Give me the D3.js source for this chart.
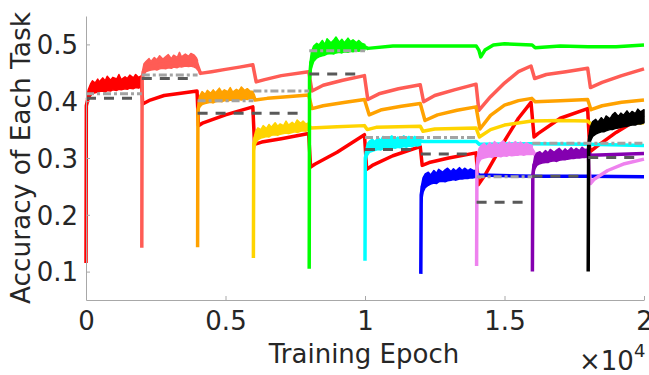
<!DOCTYPE html>
<html><head><meta charset="utf-8">
<script src="https://cdn.jsdelivr.net/npm/d3@7"></script>
<style>
html,body{margin:0;padding:0;background:#fff;}
svg{display:block;}
text{font-family:"DejaVu Sans",sans-serif;fill:#262626;}
</style></head>
<body>
<svg id="chart" width="649" height="375"></svg>
<script>
// ---- data (epoch, accuracy) ----
const taskNames = ["Task 1","Task 2","Task 3","Task 4","Task 5","Task 6","Task 7","Task 8","Task 9","Task 10"];
const taskColors = ["#ff0000","#ff5c55","#ffa200","#ffd400","#00ff00","#00ffff","#0000ff","#ee82ee","#8400b0","#000000"];

const curveRed = [[0,0.115],[12,0.392],[60,0.402],[200,0.418],[400,0.425],[800,0.429],[1200,0.431],[1600,0.433],[1990,0.436],[2030,0.395],[2300,0.402],[2800,0.41],[3400,0.414],[3980,0.418],[4030,0.357],[4200,0.362],[5000,0.376],[5980,0.39],[6040,0.324],[6300,0.328],[7000,0.334],[7980,0.343],[8050,0.284],[8200,0.289],[9000,0.31],[9980,0.341],[10060,0.28],[10300,0.288],[11000,0.304],[11980,0.32],[12050,0.287],[12300,0.292],[13000,0.3],[13980,0.309],[14060,0.253],[14300,0.27],[15000,0.33],[15500,0.37],[15950,0.398],[16060,0.337],[16200,0.343],[17000,0.37],[17980,0.387],[18060,0.311],[18300,0.32],[19000,0.345],[19500,0.36],[20000,0.366]];
const curveSalmon = [[2000,0.142],[2012,0.44],[2060,0.452],[2200,0.46],[2600,0.464],[3000,0.467],[3500,0.47],[3900,0.472],[3960,0.468],[4100,0.449],[4500,0.452],[5000,0.456],[5500,0.46],[5980,0.464],[6100,0.434],[6400,0.438],[7000,0.445],[7980,0.452],[8100,0.418],[8500,0.428],[9200,0.437],[9980,0.445],[10100,0.403],[10500,0.413],[11200,0.422],[11980,0.429],[12100,0.399],[12500,0.41],[13200,0.42],[13980,0.43],[14080,0.384],[14500,0.408],[15000,0.432],[15500,0.452],[15950,0.462],[16080,0.44],[16500,0.447],[17200,0.452],[17980,0.458],[18080,0.424],[18500,0.433],[19200,0.445],[20000,0.457]];
const curveOrange = [[4000,0.143],[4012,0.385],[4060,0.395],[4200,0.402],[4600,0.406],[5000,0.408],[5500,0.41],[5990,0.412],[6060,0.402],[6500,0.405],[7200,0.408],[7980,0.411],[8100,0.387],[8500,0.392],[9300,0.398],[9980,0.403],[10150,0.376],[10600,0.385],[11300,0.391],[11980,0.396],[12150,0.366],[12600,0.376],[13300,0.384],[13980,0.39],[14120,0.351],[14500,0.375],[15000,0.393],[15500,0.401],[15980,0.405],[16100,0.399],[17000,0.401],[17980,0.403],[18100,0.385],[18500,0.392],[19200,0.398],[20000,0.402]];
const curveGold = [[6000,0.124],[6012,0.325],[6060,0.335],[6200,0.342],[6600,0.347],[7200,0.352],[7990,0.357],[8060,0.353],[9000,0.355],[9980,0.357],[10080,0.35],[10400,0.354],[11980,0.356],[12080,0.347],[12500,0.351],[13980,0.353],[14100,0.337],[14500,0.35],[15000,0.358],[15980,0.365],[17000,0.366],[17980,0.365],[18100,0.36],[20000,0.362]];
const curveGreen = [[8000,0.105],[8012,0.44],[8060,0.468],[8200,0.482],[8500,0.49],[9000,0.494],[9500,0.495],[9990,0.496],[10100,0.493],[11000,0.497],[12000,0.497],[13000,0.497],[13990,0.497],[14080,0.49],[14150,0.478],[14300,0.49],[14600,0.499],[15000,0.501],[15990,0.499],[16100,0.494],[17000,0.497],[18000,0.496],[19000,0.496],[20000,0.499]];
const curveCyan = [[10000,0.119],[10012,0.3],[10060,0.312],[10200,0.32],[10600,0.325],[11200,0.328],[11990,0.33],[12100,0.329],[13990,0.329],[14100,0.324],[16000,0.325],[18000,0.324],[20000,0.322]];
const curveBlue = [[12000,0.096],[12015,0.235],[12060,0.25],[12200,0.26],[12600,0.266],[13300,0.27],[13990,0.273],[14100,0.27],[16000,0.268],[18000,0.268],[20000,0.267]];
const curveViolet = [[14000,0.11],[14012,0.285],[14060,0.3],[14200,0.308],[14600,0.311],[15300,0.313],[15990,0.315],[16100,0.305],[17990,0.308],[18080,0.255],[18200,0.262],[18700,0.278],[19300,0.29],[20000,0.298]];
const curvePurple = [[16000,0.10],[16015,0.27],[16060,0.288],[16200,0.298],[16600,0.303],[17300,0.307],[17990,0.311],[18100,0.305],[20000,0.308]];
const curveBlack = [[18000,0.10],[18015,0.32],[18060,0.338],[18200,0.35],[18600,0.358],[19200,0.368],[20000,0.375]];

// noisy spread while each task is being trained: [epoch, low, high]
const bandRed = [[20,0.39,0.405],[80,0.402,0.42],[160,0.41,0.43],[230,0.413,0.436],[330,0.415,0.432],[420,0.416,0.439],[470,0.417,0.434],[600,0.418,0.441],[690,0.416,0.436],[760,0.419,0.444],[880,0.418,0.437],[960,0.42,0.442],[1100,0.419,0.439],[1180,0.421,0.447],[1260,0.42,0.438],[1400,0.422,0.443],[1480,0.421,0.44],[1570,0.423,0.446],[1700,0.422,0.441],[1780,0.424,0.447],[1880,0.423,0.442],[1995,0.425,0.445]];
const bandSalmon = [[2020,0.435,0.452],[2080,0.447,0.466],[2150,0.452,0.47],[2260,0.454,0.475],[2330,0.455,0.47],[2450,0.456,0.477],[2540,0.455,0.473],[2640,0.457,0.48],[2760,0.458,0.474],[2850,0.457,0.478],[2950,0.459,0.482],[3060,0.458,0.475],[3140,0.46,0.481],[3270,0.459,0.477],[3350,0.461,0.486],[3420,0.46,0.478],[3560,0.462,0.483],[3680,0.461,0.479],[3760,0.462,0.484],[3880,0.46,0.481],[3960,0.458,0.476],[3995,0.455,0.472]];
const bandOrange = [[4020,0.38,0.398],[4080,0.39,0.41],[4160,0.394,0.417],[4270,0.396,0.412],[4350,0.397,0.419],[4470,0.398,0.414],[4560,0.397,0.42],[4640,0.399,0.415],[4780,0.4,0.423],[4870,0.399,0.416],[4960,0.401,0.42],[5080,0.4,0.417],[5170,0.402,0.424],[5260,0.401,0.416],[5390,0.402,0.421],[5480,0.403,0.418],[5570,0.402,0.425],[5690,0.404,0.419],[5780,0.403,0.422],[5880,0.405,0.418],[5995,0.405,0.417]];
const bandGold = [[6020,0.31,0.335],[6080,0.325,0.347],[6160,0.332,0.353],[6270,0.335,0.35],[6350,0.336,0.357],[6470,0.338,0.352],[6560,0.337,0.359],[6640,0.34,0.354],[6780,0.341,0.362],[6870,0.34,0.356],[6960,0.342,0.36],[7080,0.343,0.357],[7170,0.344,0.365],[7260,0.343,0.358],[7390,0.345,0.363],[7480,0.346,0.359],[7570,0.345,0.367],[7690,0.347,0.361],[7780,0.348,0.365],[7880,0.347,0.36],[7995,0.35,0.362]];
const bandGreen = [[8020,0.43,0.465],[8080,0.458,0.487],[8160,0.47,0.497],[8270,0.476,0.502],[8350,0.478,0.499],[8470,0.48,0.507],[8560,0.481,0.5],[8640,0.483,0.51],[8780,0.484,0.503],[8870,0.483,0.507],[8960,0.485,0.513],[9080,0.486,0.504],[9170,0.485,0.509],[9260,0.487,0.503],[9390,0.486,0.511],[9480,0.488,0.505],[9570,0.487,0.508],[9690,0.489,0.503],[9780,0.488,0.507],[9880,0.49,0.502],[9995,0.49,0.5]];
const bandCyan = [[10020,0.29,0.312],[10080,0.304,0.325],[10160,0.31,0.33],[10270,0.312,0.333],[10350,0.313,0.329],[10470,0.315,0.336],[10560,0.314,0.331],[10640,0.316,0.338],[10780,0.317,0.332],[10870,0.316,0.336],[10960,0.318,0.339],[11080,0.317,0.333],[11170,0.319,0.337],[11260,0.318,0.334],[11390,0.32,0.339],[11480,0.319,0.335],[11570,0.321,0.338],[11690,0.32,0.334],[11780,0.322,0.338],[11880,0.321,0.335],[11995,0.323,0.335]];
const bandBlue = [[12020,0.22,0.25],[12080,0.24,0.265],[12160,0.248,0.272],[12270,0.252,0.275],[12350,0.254,0.27],[12470,0.256,0.278],[12560,0.255,0.273],[12640,0.258,0.28],[12780,0.259,0.275],[12870,0.258,0.279],[12960,0.26,0.282],[13080,0.261,0.276],[13170,0.262,0.281],[13260,0.261,0.277],[13390,0.263,0.283],[13480,0.263,0.278],[13570,0.264,0.282],[13690,0.264,0.278],[13780,0.265,0.281],[13880,0.265,0.278],[13995,0.266,0.278]];
const bandViolet = [[14020,0.275,0.3],[14080,0.292,0.316],[14160,0.298,0.322],[14270,0.3,0.326],[14350,0.301,0.32],[14470,0.302,0.327],[14560,0.301,0.322],[14640,0.303,0.329],[14780,0.303,0.323],[14870,0.302,0.327],[14960,0.304,0.33],[15080,0.303,0.323],[15170,0.305,0.328],[15260,0.304,0.324],[15390,0.305,0.329],[15480,0.305,0.324],[15570,0.306,0.328],[15690,0.305,0.323],[15780,0.306,0.327],[15880,0.306,0.324],[15995,0.306,0.322]];
const bandPurple = [[16020,0.26,0.285],[16080,0.28,0.302],[16160,0.287,0.309],[16270,0.29,0.311],[16350,0.291,0.307],[16470,0.292,0.313],[16560,0.292,0.309],[16640,0.294,0.315],[16780,0.295,0.31],[16870,0.294,0.314],[16960,0.296,0.317],[17080,0.297,0.311],[17170,0.297,0.316],[17260,0.298,0.312],[17390,0.299,0.318],[17480,0.299,0.313],[17570,0.3,0.317],[17690,0.3,0.313],[17780,0.301,0.319],[17880,0.301,0.315],[17995,0.302,0.316]];
const bandBlack = [[18020,0.3,0.335],[18080,0.33,0.355],[18160,0.338,0.364],[18270,0.342,0.368],[18350,0.344,0.363],[18470,0.346,0.371],[18560,0.346,0.366],[18640,0.348,0.374],[18780,0.35,0.369],[18870,0.35,0.376],[18960,0.352,0.38],[19080,0.353,0.373],[19170,0.354,0.379],[19260,0.355,0.375],[19390,0.356,0.383],[19480,0.357,0.377],[19570,0.358,0.382],[19690,0.358,0.378],[19780,0.36,0.386],[19880,0.36,0.381],[20000,0.362,0.385]];

// reference levels: [startEpoch, endEpoch, accuracy]
const lightRefs = [[0,2000,0.413],[2000,4000,0.446],[4000,6000,0.401],[6000,8000,0.418],[8000,10000,0.489],[10000,14000,0.336],[14000,16000,0.267],[16000,20000,0.326]];
const darkRefs = [[0,1700,0.405],[2000,3720,0.44],[4000,7750,0.379],[8000,9720,0.448],[10000,11950,0.315],[12000,13800,0.307],[14000,15700,0.222],[16000,17700,0.268],[18000,19800,0.301]];

const xTicks = [0,5000,10000,15000,20000];
const yTicks = [0.1,0.2,0.3,0.4,0.5];
const xLabel = "Training Epoch";
const yLabel = "Accuracy of Each Task";

const curves = [curveRed,curveSalmon,curveOrange,curveGold,curveGreen,curveCyan,curveBlue,curveViolet,curvePurple,curveBlack];
const bands = [bandRed,bandSalmon,bandOrange,bandGold,bandGreen,bandCyan,bandBlue,bandViolet,bandPurple,bandBlack];

// ---- drawing ----
const svg = d3.select("#chart");
const x = d3.scaleLinear().domain([0,20000]).range([86,644]);
const y = d3.scaleLinear().domain([0.05,0.55]).range([300,16]);

const line = d3.line().x(d=>x(d[0])).y(d=>y(d[1]));
const area = d3.area().x(d=>x(d[0])).y0(d=>y(d[1])).y1(d=>y(d[2]));

const plot = svg.append("g");
curves.forEach((c,i)=>{
  plot.append("path").datum(bands[i]).attr("d",area)
    .attr("fill",taskColors[i]).attr("stroke",taskColors[i]).attr("stroke-width",1.5)
    .attr("stroke-linejoin","round");
  plot.append("path").datum(c).attr("d",line)
    .attr("fill","none").attr("stroke",taskColors[i]).attr("stroke-width",3.5)
    .attr("stroke-linejoin","round");
});

const refs = svg.append("g");
refs.selectAll("line.light").data(lightRefs).join("line").attr("class","light")
  .attr("x1",d=>x(d[0])).attr("x2",d=>x(d[1])).attr("y1",d=>y(d[2])).attr("y2",d=>y(d[2]))
  .attr("stroke","#a3a3a3").attr("stroke-width",3).attr("stroke-dasharray","8,3,3,3");
refs.selectAll("line.dark").data(darkRefs).join("line").attr("class","dark")
  .attr("x1",d=>x(d[0])).attr("x2",d=>x(d[1])).attr("y1",d=>y(d[2])).attr("y2",d=>y(d[2]))
  .attr("stroke","#595959").attr("stroke-width",3).attr("stroke-dasharray","10,8");

// axes
const xAxis = d3.axisBottom(x).tickValues(xTicks).tickFormat(d=>d/10000)
  .tickSizeInner(-4).tickSizeOuter(0).tickPadding(12);
const yAxis = d3.axisLeft(y).tickValues(yTicks).tickFormat(d3.format(".1f"))
  .tickSizeInner(-4).tickSizeOuter(0).tickPadding(8);

const gx = svg.append("g").attr("transform","translate(0,300)").call(xAxis);
const gy = svg.append("g").attr("transform","translate(86,0)").call(yAxis);
[gx,gy].forEach(g=>{
  g.select(".domain").attr("stroke","#a8a8a8").attr("stroke-width",1);
  g.selectAll(".tick line").attr("stroke","#a8a8a8");
  g.selectAll(".tick text").attr("font-size",26).attr("font-family","DejaVu Sans").attr("fill","#262626");
});
gy.selectAll(".tick text").attr("dy","0.36em");

svg.append("text").attr("x",364).attr("y",363).attr("text-anchor","middle")
  .attr("font-size",26).text(xLabel);
svg.append("text").attr("transform","rotate(-90)").attr("x",-158).attr("y",30)
  .attr("text-anchor","middle").attr("font-size",26.4).text(yLabel);

const mult = svg.append("text").attr("x",579).attr("y",370).attr("font-size",26);
mult.append("tspan").text("×10");
mult.append("tspan").attr("font-size",18).attr("dy",-13).text("4");
</script>
</body></html>
